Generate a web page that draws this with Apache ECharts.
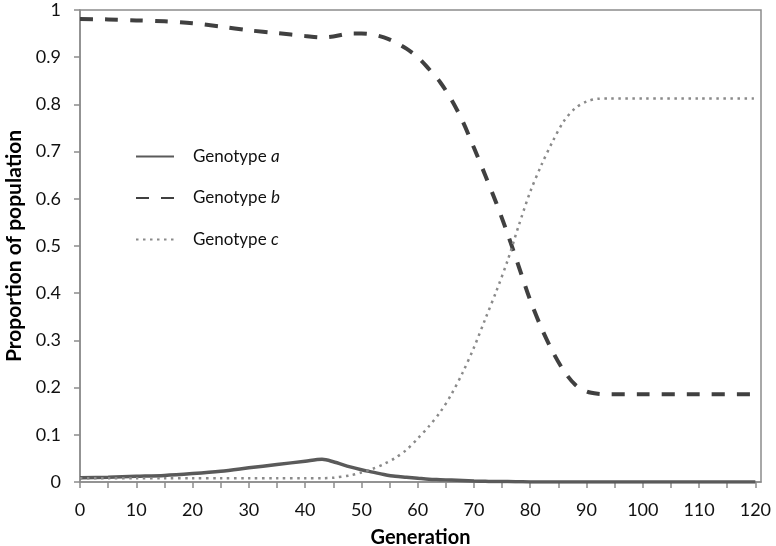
<!DOCTYPE html>
<html><head><meta charset="utf-8">
<script src="https://cdn.jsdelivr.net/npm/echarts@6/dist/echarts.min.js"></script>
<style>html,body{margin:0;padding:0;background:#fff}#c{width:776px;height:546px}</style>
</head><body><div id="c"></div>
<script>
// Generation (x values)
const generations = [0,5,10,15,20,25,30,35,40,43,45,48,50,52,54,56,58,60,62,64,66,68,70,72,74,76,78,80,82,84,86,88,90,92,94,100,110,120];
// Proportion of population for each genotype
const genotypeA = [0.009,0.010,0.012,0.014,0.018,0.023,0.030,0.037,0.044,0.048,0.043,0.032,0.026,0.021,0.016,0.012,0.010,0.008,0.006,0.005,0.004,0.003,0.002,0.0015,0.001,0.001,0.0005,0,0,0,0,0,0,0,0,0,0,0];
const genotypeB = [0.981,0.980,0.978,0.976,0.972,0.965,0.957,0.951,0.945,0.942,0.944,0.950,0.950,0.948,0.942,0.932,0.918,0.900,0.875,0.847,0.810,0.764,0.708,0.650,0.590,0.525,0.455,0.385,0.326,0.276,0.235,0.206,0.192,0.187,0.186,0.186,0.186,0.186];
const genotypeC = [0.008,0.008,0.008,0.008,0.008,0.008,0.008,0.008,0.008,0.008,0.009,0.014,0.020,0.028,0.038,0.051,0.068,0.092,0.118,0.148,0.186,0.232,0.285,0.345,0.405,0.470,0.545,0.615,0.672,0.722,0.765,0.792,0.806,0.812,0.8125,0.8125,0.8125,0.8125];
const seriesNames = ['Genotype a','Genotype b','Genotype c'];
const xTickValues = [0,5,10,15,20,25,30,35,40,45,50,55,60,65,70,75,80,85,90,95,100,105,110,115,120];
const xLabelValues = [0,10,20,30,40,50,60,70,80,90,100,110,120];

const FONT = 'Lato';
const pairs = arr => generations.map((g,i)=>[g,arr[i]]);
const chart = echarts.init(document.getElementById('c'), null, {renderer:'canvas'});
chart.setOption({
  backgroundColor:'#fff',
  animation:false,
  textStyle:{fontFamily:FONT},
  grid:{left:80,right:15,top:10,bottom:64,show:true,borderColor:'#8c8c8c',borderWidth:1.5,containLabel:false,outerBoundsMode:'none'},
  legend:{
    orient:'vertical', left:130, top:143, itemWidth:38, itemHeight:18, itemGap:24.5,
    data:seriesNames,
    itemStyle:{opacity:0},
    formatter: n => n.replace(/ (\w)$/, ' {i|$1}'),
    textStyle:{fontFamily:FONT,fontSize:17,color:'#111',padding:[0,0,0,14],
      rich:{i:{fontFamily:FONT,fontSize:17,fontStyle:'italic',color:'#111'}}}
  },
  xAxis:{
    type:'value', min:0, max:121,
    name:'Generation', nameLocation:'middle', nameGap:46,
    nameTextStyle:{fontFamily:FONT,fontWeight:'bold',fontSize:20,color:'#000'},
    splitLine:{show:false},
    axisLine:{lineStyle:{color:'#8c8c8c',width:1.5}},
    axisTick:{show:true,length:6,lineStyle:{color:'#8c8c8c',width:1.5},customValues:xTickValues},
    axisLabel:{fontSize:18,color:'#111',margin:19,customValues:xLabelValues}
  },
  yAxis:{
    type:'value', min:0, max:1, interval:0.1,
    name:'Proportion of population', nameLocation:'middle', nameGap:51,
    nameTextStyle:{fontFamily:FONT,fontWeight:'bold',fontSize:21,color:'#000'},
    splitLine:{show:false},
    axisLine:{show:true,lineStyle:{color:'#8c8c8c',width:1.5}},
    axisTick:{show:true,length:6,lineStyle:{color:'#8c8c8c',width:1.5}},
    axisLabel:{fontSize:18,color:'#111',margin:19}
  },
  series:[
    {name:seriesNames[0],type:'line',data:pairs(genotypeA),symbol:'none',smooth:0.3,
     lineStyle:{color:'#5a5a5a',width:3.5},itemStyle:{color:'#5a5a5a'}},
    {name:seriesNames[1],type:'line',data:pairs(genotypeB),symbol:'none',smooth:0.3,
     lineStyle:{color:'#404040',width:4,type:[13,12]},itemStyle:{color:'#404040'}},
    {name:seriesNames[2],type:'line',data:pairs(genotypeC),symbol:'none',smooth:0.3,
     lineStyle:{color:'#8a8a8a',width:2.5,type:[2.5,4.5]},itemStyle:{color:'#8a8a8a'}}
  ]
});
</script></body></html>
